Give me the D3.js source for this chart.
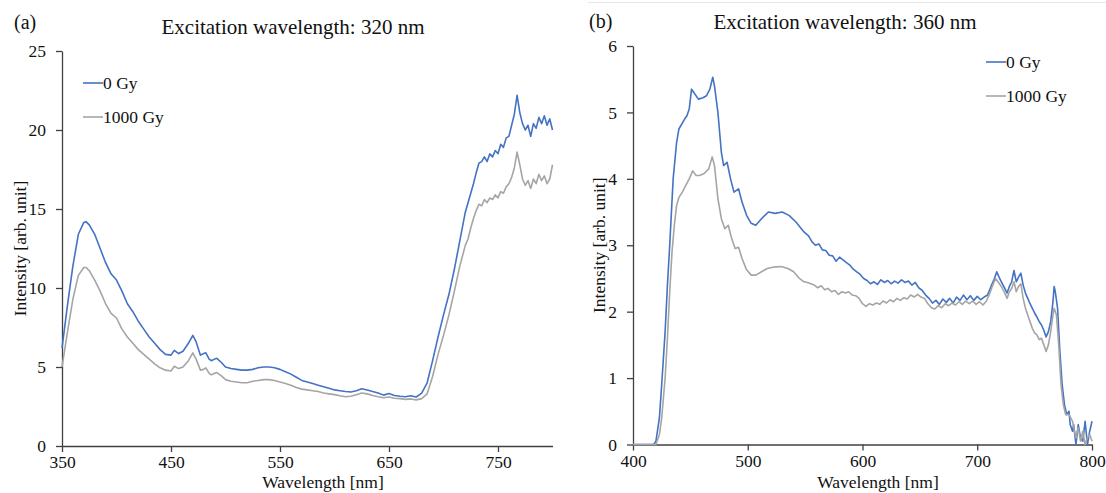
<!DOCTYPE html>
<html>
<head>
<meta charset="utf-8">
<script src="https://cdn.jsdelivr.net/npm/d3@7"></script>
<style>
  body { margin: 0; background: #fff; }
  svg { display: block; font-family: "Liberation Serif", "Times New Roman", serif; }
</style>
</head>
<body>
<svg id="chart" width="1106" height="493"></svg>
<script>
// panel (a): excitation 320 nm
const wlA = [350,355,360,365,370,372,375,380,385,390,395,400,405,410,415,420,425,430,435,440,445,450,453,457,461,466,470,473,477,480,482,485,487,490,492,496,500,505,510,515,520,525,530,535,540,545,550,555,560,565,570,575,580,585,590,595,600,605,610,615,620,625,630,635,640,645,650,655,660,665,670,675,680,685,690,695,700,705,710,715,720,722.5,725,727.5,730,732.5,735,737.5,740,742.5,745,747.5,750,752.5,755,757.5,760,762.5,765,767.5,770,772.5,775,777.5,780,782.5,785,787.5,790,792.5,795,797.5,800];
const intA0Gy = [6.2,8.9,11.4,13.4,14.15,14.2,14.0,13.4,12.5,11.6,10.9,10.5,9.8,9.0,8.5,7.9,7.4,6.9,6.5,6.1,5.8,5.75,6.05,5.85,6.0,6.5,7.0,6.6,5.75,5.85,5.9,5.5,5.4,5.5,5.55,5.3,5.0,4.9,4.85,4.8,4.8,4.85,4.95,5.0,5.0,4.95,4.85,4.7,4.55,4.35,4.15,4.05,3.95,3.85,3.75,3.65,3.55,3.5,3.45,3.42,3.5,3.62,3.55,3.45,3.35,3.22,3.32,3.2,3.15,3.12,3.18,3.1,3.35,4.0,5.4,6.9,8.3,9.6,11.2,13.0,14.8,15.4,16.0,16.6,17.3,17.9,18.0,18.3,18.0,18.5,18.3,18.7,18.5,19.1,18.9,19.5,19.6,20.3,21.0,22.2,21.1,20.4,20.0,20.3,19.6,20.4,20.1,20.8,20.4,20.9,20.3,20.7,20.0];
const intA1000Gy = [5.0,7.2,9.3,10.8,11.3,11.3,11.1,10.5,9.8,9.0,8.4,8.1,7.4,6.9,6.5,6.1,5.8,5.5,5.2,4.95,4.8,4.75,5.05,4.9,5.0,5.4,5.9,5.5,4.8,4.85,4.95,4.6,4.5,4.6,4.65,4.45,4.2,4.1,4.05,4.0,4.0,4.1,4.15,4.2,4.2,4.15,4.05,3.95,3.85,3.7,3.6,3.55,3.5,3.45,3.35,3.3,3.25,3.18,3.12,3.15,3.25,3.35,3.3,3.2,3.12,3.05,3.1,3.02,3.0,2.95,2.98,2.92,3.0,3.3,4.4,5.8,7.0,8.3,9.8,11.4,12.7,13.1,13.8,14.4,14.9,15.3,15.2,15.6,15.4,15.7,15.6,15.9,15.7,16.1,16.0,16.4,16.6,17.0,17.6,18.6,17.8,16.9,16.5,16.8,16.3,16.9,16.6,17.2,16.8,17.1,16.6,16.9,17.8];
const xTicksA = [350, 450, 550, 650, 750];
const yTicksA = [0, 5, 10, 15, 20, 25];

// panel (b): excitation 360 nm
const wlB0Gy = [400,410,418,420,423,425,428,430,432,435,438,440,445,447,449,451,453,457,461,464,467,469.5,471,474,477,479,482,485,488,492,495,499,503,507,512,518,524,530,536,542,549,553,556,559,562,565,568,571,574,577,580,583,586,589,592,595,598,601,604,607,610,613,616,619,622,625,628,631,634,637,640,643,646,649,652,655,658,661,664,667,670,673,676,679,682,685,688,691,694,697,700,703,706,709,712,715,717,719,721,724,726,728,730,732,734,736,738,740,742,744,746,748,750,752,754,756,758,760,762,764,766,767,768,770,772,774,776,778,780,781,783,784,786,788,790,792,794,796,798,800];
const intB0Gy = [0,0,0,0.05,0.4,0.9,1.7,2.4,3.0,4.0,4.55,4.75,4.9,4.95,5.05,5.35,5.3,5.2,5.22,5.25,5.35,5.53,5.4,5.0,4.4,4.2,4.25,4.0,3.8,3.85,3.65,3.45,3.33,3.3,3.4,3.5,3.48,3.5,3.45,3.35,3.2,3.14,3.05,3.0,3.02,2.93,2.92,2.85,2.84,2.76,2.82,2.78,2.74,2.7,2.64,2.6,2.56,2.5,2.47,2.42,2.45,2.41,2.48,2.44,2.47,2.42,2.46,2.43,2.48,2.44,2.46,2.4,2.44,2.36,2.32,2.25,2.2,2.13,2.17,2.11,2.19,2.14,2.2,2.13,2.22,2.17,2.25,2.18,2.24,2.17,2.23,2.18,2.22,2.25,2.38,2.5,2.6,2.52,2.45,2.35,2.28,2.38,2.45,2.62,2.45,2.52,2.58,2.4,2.28,2.2,2.12,2.05,1.98,1.92,1.85,1.8,1.72,1.62,1.7,1.85,2.15,2.38,2.3,2.05,1.4,0.9,0.6,0.45,0.5,0.3,0.2,0.3,0.0,0.3,0.1,0.05,0.35,0.0,0.2,0.35];
const wlB1000Gy = [400,410,418,420,423,425,428,430,432,434,436,438,440,443,446,449,452,455,458,462,466,469,471,474,477,480,483,486,489,492,495,499,503,507,512,517,522,529,535,540,545,549,552,555,558,561,564,567,570,573,576,579,582,585,588,591,594,597,600,603,606,609,612,615,618,621,624,627,630,633,636,639,642,645,648,651,654,657,660,663,666,669,672,675,678,681,684,687,690,693,696,699,702,705,708,711,714,716,718,721,724,726,728,730,732,734,736,738,740,742,744,746,748,750,752,754,756,758,760,762,764,766,767,769,771,773,775,777,780,783,786,788,790,792,794,796,798,800];
const intB1000Gy = [0,0,0,0,0.15,0.4,1.0,1.6,2.3,2.9,3.3,3.6,3.72,3.8,3.9,4.0,4.12,4.05,4.05,4.08,4.15,4.33,4.2,3.7,3.4,3.25,3.3,3.1,2.95,2.97,2.8,2.63,2.55,2.55,2.6,2.65,2.67,2.68,2.65,2.6,2.5,2.45,2.44,2.42,2.4,2.36,2.39,2.33,2.35,2.3,2.32,2.26,2.3,2.28,2.3,2.25,2.24,2.2,2.12,2.08,2.12,2.1,2.13,2.11,2.16,2.13,2.18,2.15,2.2,2.17,2.21,2.19,2.25,2.22,2.26,2.22,2.2,2.12,2.06,2.04,2.09,2.06,2.12,2.09,2.13,2.1,2.15,2.11,2.16,2.12,2.16,2.11,2.15,2.1,2.16,2.28,2.42,2.5,2.45,2.38,2.28,2.2,2.3,2.35,2.45,2.3,2.38,2.42,2.2,2.05,1.95,1.85,1.75,1.68,1.65,1.58,1.6,1.5,1.4,1.5,1.7,1.95,2.05,1.95,1.5,0.9,0.6,0.45,0.45,0.35,0.1,0.25,0.05,0.2,0.0,0.1,0.15,0.05];
const xTicksB = [400, 500, 600, 700, 800];
const yTicksB = [0, 1, 2, 3, 4, 5, 6];

const blue = "#4472C4";
const gray = "#A5A5A5";
const axisColor = "#404040";
const serif = "'Liberation Serif', 'Times New Roman', serif";

const svg = d3.select("#chart");

// faint frame line above panel (b)
svg.append("line")
    .attr("x1", 588).attr("x2", 1106)
    .attr("y1", 2.5).attr("y2", 2.5)
    .attr("stroke", "#e6e6e6");

function drawPanel(p) {
    const x = d3.scaleLinear().domain(p.xDomain).range([p.left, p.right]);
    const y = d3.scaleLinear().domain(p.yDomain).range([p.bottom, p.top]);

    const xAxis = svg.append("g")
        .attr("transform", `translate(0,${p.bottom})`)
        .call(d3.axisBottom(x).tickValues(p.xTicks).tickFormat(d3.format("d"))
            .tickSize(6).tickSizeOuter(0).tickPadding(4));
    const yAxis = svg.append("g")
        .attr("transform", `translate(${p.left},0)`)
        .call(d3.axisLeft(y).tickValues(p.yTicks).tickFormat(d3.format("d"))
            .tickSize(6).tickSizeOuter(0).tickPadding(10));

    [xAxis, yAxis].forEach(g => {
        g.attr("font-family", serif).attr("font-size", 17.5);
        g.select(".domain").attr("stroke", axisColor).attr("stroke-width", 1.3);
        g.selectAll(".tick line").attr("stroke", axisColor).attr("stroke-width", 1.3);
        g.selectAll(".tick text").attr("fill", "#111");
    });

    const line = d3.line()
        .x(d => x(d[0]))
        .y(d => y(d[1]));

    p.series.forEach(s => {
        svg.append("path")
            .datum(s.wl.map((w, i) => [w, s.val[i]]))
            .attr("fill", "none")
            .attr("stroke", s.color)
            .attr("stroke-width", 1.6)
            .attr("stroke-linejoin", "round")
            .attr("d", line);
    });

    // legend
    p.series.forEach((s, i) => {
        const ly = p.legendY + i * 34;
        svg.append("line")
            .attr("x1", p.legendX).attr("x2", p.legendX + 20)
            .attr("y1", ly).attr("y2", ly)
            .attr("stroke", s.color)
            .attr("stroke-width", 1.6);
        svg.append("text")
            .attr("x", p.legendX + 20)
            .attr("y", ly + 6)
            .style("font-size", "17.5px")
            .attr("fill", "#111")
            .text(s.name);
    });

    // panel letter and title
    svg.append("text")
        .attr("x", p.letterX).attr("y", p.letterY)
        .style("font-size", "20px")
        .attr("fill", "#111")
        .text(p.letter);
    svg.append("text")
        .attr("x", p.titleX).attr("y", p.titleY)
        .attr("text-anchor", "middle")
        .style("font-size", "21px")
        .attr("fill", "#111")
        .text(p.title);

    // axis titles
    svg.append("text")
        .attr("x", p.xLabelX).attr("y", 488)
        .attr("text-anchor", "middle")
        .style("font-size", "17.5px")
        .attr("fill", "#111")
        .text("Wavelength [nm]");
    svg.append("text")
        .attr("transform", `translate(${p.yLabelX},${(p.top + p.bottom) / 2}) rotate(-90)`)
        .attr("text-anchor", "middle")
        .style("font-size", "17.5px")
        .attr("fill", "#111")
        .text("Intensity [arb. unit]");
}

drawPanel({
    xDomain: [350, 800], yDomain: [0, 25],
    left: 62, right: 552.5, top: 51, bottom: 446,
    xTicks: xTicksA, yTicks: yTicksA,
    series: [
        { name: "0 Gy", wl: wlA, val: intA0Gy, color: blue },
        { name: "1000 Gy", wl: wlA, val: intA1000Gy, color: gray }
    ],
    legendX: 83, legendY: 83,
    letter: "(a)", letterX: 14, letterY: 29,
    title: "Excitation wavelength: 320 nm", titleX: 293, titleY: 34,
    xLabelX: 323, yLabelX: 26
});

drawPanel({
    xDomain: [400, 800], yDomain: [0, 6],
    left: 633, right: 1092, top: 46, bottom: 444.5,
    xTicks: xTicksB, yTicks: yTicksB,
    series: [
        { name: "0 Gy", wl: wlB0Gy, val: intB0Gy, color: blue },
        { name: "1000 Gy", wl: wlB1000Gy, val: intB1000Gy, color: gray }
    ],
    legendX: 986, legendY: 62,
    letter: "(b)", letterX: 589, letterY: 28,
    title: "Excitation wavelength: 360 nm", titleX: 845, titleY: 29,
    xLabelX: 878, yLabelX: 605
});
</script>
</body>
</html>
